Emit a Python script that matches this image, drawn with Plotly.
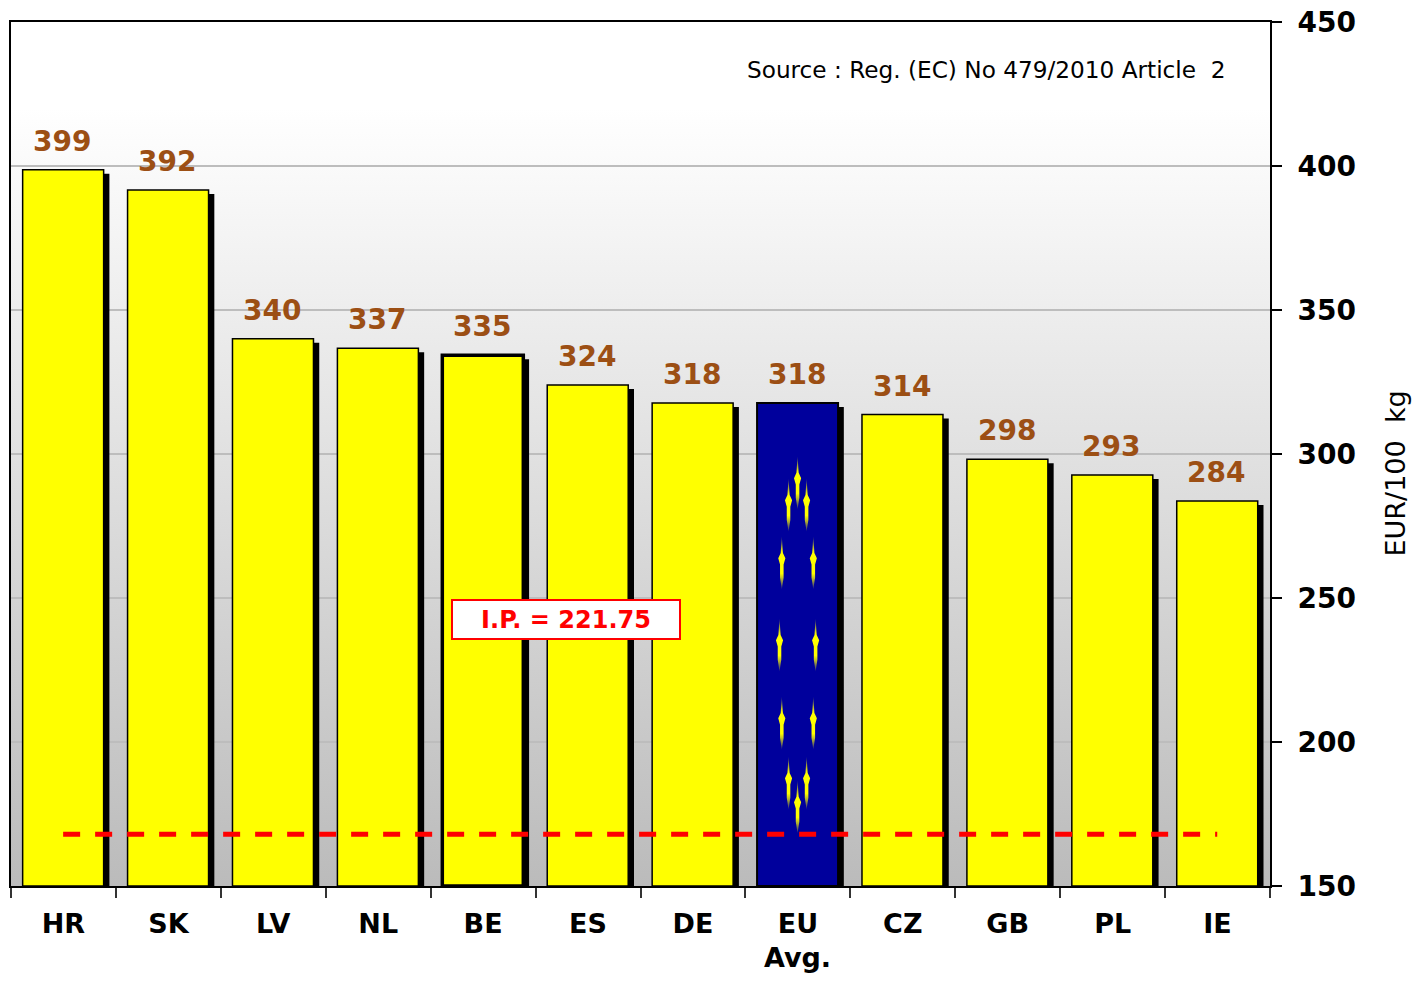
import base64
import plotly.graph_objects as go

categories = ["HR", "SK", "LV", "NL", "BE", "ES", "DE", "EU", "CZ", "GB", "PL", "IE"]
values = [398.7, 391.7, 340, 336.7, 334.3, 324, 317.7, 317.7, 313.7, 298.2, 292.7, 283.7]
value_labels_text = ["399", "392", "340", "337", "335", "324", "318", "318", "314", "298", "293", "284"]
bar_colors = ["#FFFF00"] * 7 + ["#00009C"] + ["#FFFF00"] * 4
border_widths = [1.5, 1.5, 1.5, 1.5, 3.5, 1.5, 1.5, 2, 1.5, 1.5, 1.5, 1.5]
intervention_level = [168] * 12
y_ticks = [150, 200, 250, 300, 350, 400, 450]
star_dx = [0, -0.086, 0.086, -0.15, 0.15, -0.172, 0.172, -0.15, 0.15, -0.086, 0.086, 0]
star_y = [290, 282.3, 282.3, 262.2, 262.2, 233.7, 233.7, 206.6, 206.6, 185.8, 185.8, 177.5]

FONT = "DejaVu Sans"
BASE = 150
positions = [i - 0.003 for i in range(len(categories))]


def uri(svg):
    return "data:image/svg+xml;base64," + base64.b64encode(svg.encode()).decode()


background = uri(
    '<svg xmlns="http://www.w3.org/2000/svg" width="1259" height="864" preserveAspectRatio="none">'
    '<defs><linearGradient id="g" x1="0" y1="0" x2="0" y2="1">'
    '<stop offset="0" stop-color="#FFFFFF"/><stop offset="0.1" stop-color="#FFFFFF"/>'
    '<stop offset="1" stop-color="#BBBBBB"/></linearGradient></defs>'
    '<rect width="1259" height="864" fill="url(#g)"/></svg>'
)
star = uri(
    '<svg xmlns="http://www.w3.org/2000/svg" width="20" height="160" viewBox="0 0 20 160" preserveAspectRatio="none">'
    '<defs><linearGradient id="s" x1="0" y1="0" x2="0" y2="1">'
    '<stop offset="0" stop-color="#FFFF00" stop-opacity="0.15"/>'
    '<stop offset="0.3" stop-color="#FFFF00"/><stop offset="0.7" stop-color="#FFFF00"/>'
    '<stop offset="1" stop-color="#FFFF00" stop-opacity="0.15"/></linearGradient></defs>'
    '<polygon fill="url(#s)" points="10,0 12.5,50 18,66 14,85 14,125 10,160 6,125 6,85 2,66 7.5,50"/></svg>'
)

fig = go.Figure()
fig.add_trace(go.Bar(
    x=[p + 0.055 for p in positions],
    y=[v - BASE - 1.4 for v in values],
    base=BASE,
    width=0.772,
    marker=dict(color="#000000", line=dict(width=0)),
    hoverinfo="skip",
))
fig.add_trace(go.Bar(
    x=positions,
    y=[v - BASE for v in values],
    base=BASE,
    width=0.772,
    marker=dict(color=bar_colors, line=dict(color="#000000", width=border_widths)),
    cliponaxis=False,
))
fig.add_trace(go.Scatter(
    x=positions,
    y=intervention_level,
    mode="lines",
    line=dict(color="#FF0000", width=5, dash="17px,15px"),
    hoverinfo="skip",
))

images = [dict(source=background, xref="paper", yref="paper", x=0, y=1, sizex=1, sizey=1,
               xanchor="left", yanchor="top", sizing="stretch", layer="below")]
for dx, sy in zip(star_dx, star_y):
    images.append(dict(source=star, xref="x", yref="y", x=positions[7] + dx, y=sy,
                       sizex=0.085, sizey=18.4, xanchor="center", yanchor="middle",
                       sizing="stretch", layer="above"))

value_labels = [
    dict(text=f"<b>{t}</b>", x=p - 0.008, y=v, xref="x", yref="y", xanchor="center",
         yanchor="bottom", yshift=10, showarrow=False,
         font=dict(family=FONT, size=28, color="#9C4F14"))
    for p, v, t in zip(positions, values, value_labels_text)
]

fig.update_layout(
    width=1418,
    height=1000,
    margin=dict(l=11, r=148, t=22, b=114, autoexpand=False),
    paper_bgcolor="white",
    plot_bgcolor="rgba(0,0,0,0)",
    showlegend=False,
    barmode="overlay",
    images=images,
    xaxis=dict(
        range=[-0.5, 11.5],
        tickmode="array",
        tickvals=list(range(len(categories))),
        ticktext=[f"<b>{c}</b>" for c in categories],
        ticks="",
        showgrid=False,
        zeroline=False,
        showline=True,
        mirror=True,
        linecolor="#000000",
        linewidth=2,
        ticklabelstandoff=13,
        tickfont=dict(family=FONT, size=27, color="#000000"),
        minor=dict(ticks="outside", ticklen=10, tickwidth=1.5, tickcolor="#333333",
                   tickmode="linear", tick0=-0.5, dtick=1, showgrid=False),
    ),
    yaxis=dict(
        range=[150, 450],
        side="right",
        tickmode="array",
        tickvals=y_ticks,
        ticktext=[f"<b>{t}</b>" for t in y_ticks],
        ticks="outside",
        ticklen=10,
        tickwidth=2,
        tickcolor="#000000",
        showgrid=True,
        gridcolor="#BDBDBD",
        gridwidth=1.5,
        zeroline=False,
        showline=True,
        mirror=True,
        linecolor="#000000",
        linewidth=2,
        ticklabelstandoff=10,
        tickfont=dict(family=FONT, size=28, color="#000000"),
    ),
    annotations=value_labels + [
        dict(text="EUR/100\u00a0\u00a0kg", xref="paper", yref="paper",
             x=(1395 - 11) / 1259, y=(886 - 473.5) / 864, xanchor="center", yanchor="middle",
             textangle=-90, showarrow=False, font=dict(family=FONT, size=27, color="#000000")),
        dict(text="<b>Avg.</b>", xref="x", yref="paper",
             x=7, y=(886 - 958) / 864, xanchor="center", yanchor="middle",
             showarrow=False, font=dict(family=FONT, size=27, color="#000000")),
        dict(text="Source : Reg. (EC) No 479/2010 Article  2", xref="paper", yref="paper",
             x=(1228 - 11) / 1259, y=(886 - 69) / 864, xanchor="right", yanchor="middle",
             showarrow=False, font=dict(family=FONT, size=23.2, color="#000000")),
        dict(text="<b>I.P. = 221.75</b>", xref="paper", yref="paper",
             x=(565.5 - 11) / 1259, y=(886 - 619) / 864, xanchor="center", yanchor="middle",
             showarrow=False, width=226, height=37, align="center", valign="middle",
             bgcolor="#FFFFFF", bordercolor="#FF0000", borderwidth=2, borderpad=0,
             font=dict(family=FONT, size=24, color="#FF0000")),
    ],
)

fig.write_html("out.html", config=dict(displayModeBar=False),
               post_script="document.body.style.margin='0';document.documentElement.style.overflow='hidden';window.dispatchEvent(new Event('resize'));")
